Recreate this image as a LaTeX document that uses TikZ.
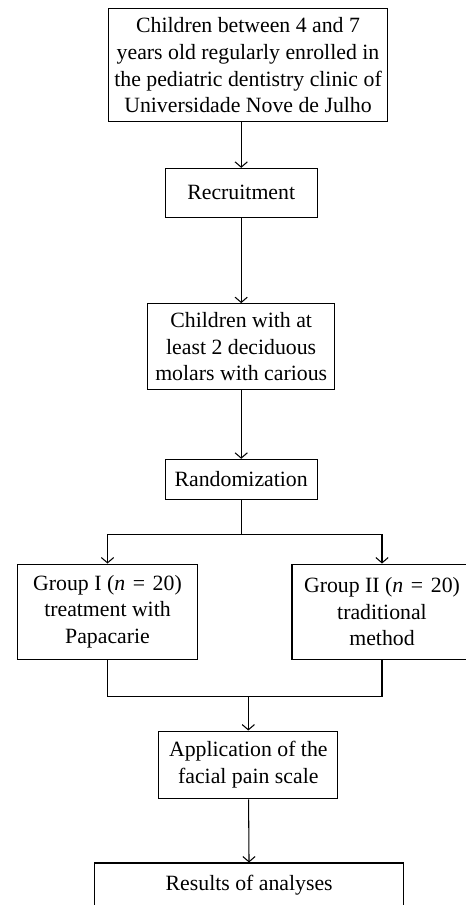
\documentclass[tikz,border=0pt]{standalone}
\usepackage{fontspec}
\setmainfont{Liberation Serif}
\usepackage{tikz}
\usetikzlibrary{arrows.meta}

\begin{document}
\begin{tikzpicture}[x=0.02cm,y=-0.02cm,
    box/.style={draw, line width=0.6pt, inner sep=0pt, align=center,
        font=\fontsize{12.4}{15.2}\selectfont},
    arr/.style={-{Straight Barb[length=3pt,width=7pt]}},
    every path/.style={line width=0.6pt}]

\useasboundingbox (0,0) rectangle (466,905);

\node[box,
    minimum width=5.57cm,minimum height=2.26cm] at (248,65.2) (block1)
    {Children between 4 and 7\\years old regularly enrolled in\\the pediatric dentistry clinic of\\Universidade Nove de Julho};

\node[box,
    minimum width=3.04cm,minimum height=0.974cm] at (241.2,192.7) (block2) {Recruitment};

\node[box,
    minimum width=3.75cm,minimum height=1.726cm] at (241.2,346.8) (block3)
    {Children with at\\least 2 deciduous\\molars with carious};

\node[box,
    minimum width=3.04cm,minimum height=0.808cm] at (241.2,479.5) (block4) {Randomization};

\node[box,
    minimum width=3.59cm,minimum height=1.906cm] at (107.5,611.7) (block5)
    {Group I (\textit{n}\hspace{0.35em}=\hspace{0.35em}20)\\treatment with\\Papacarie};

\node[box,
    minimum width=3.6cm,minimum height=1.906cm] at (382,611.7) (block6)
    {Group II (\textit{n}\hspace{0.35em}=\hspace{0.35em}20)\\traditional\\method};

\node[box,
    minimum width=3.586cm,minimum height=1.354cm] at (248.3,764.9) (block7)
    {Application of the\\facial pain scale};

\node[box,
    minimum width=6.19cm,minimum height=0.88cm] at (249.2,885) (block8) {Results of analyses};

\coordinate (split) at (241.2,534.3);
\coordinate (merge) at (248.3,696.3);

\draw[arr] (block1.south -| block2.north) -- (block2.north);
\draw[arr] (block2) -- (block3);
\draw[arr] (block3) -- (block4);
\draw (block4) -- (split);
\draw[arr] (split) -| (block5);
\draw[arr] (split) -| (block6);
\draw (block5) |- (merge) -| (block6);
\draw[arr] (merge) -- (block7);
\draw[arr] (block7) -- (block8);

\end{tikzpicture}
\end{document}
